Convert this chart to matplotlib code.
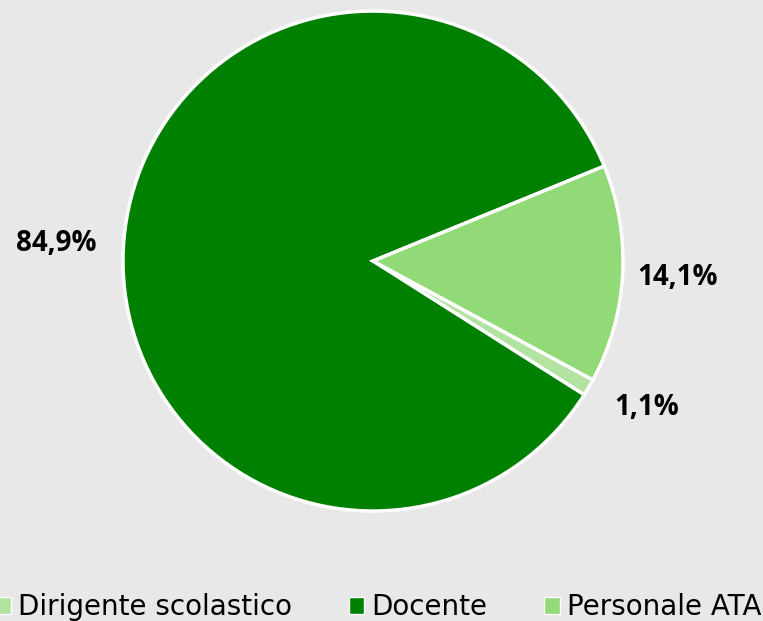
import numpy as np
import matplotlib.pyplot as plt
from matplotlib.patches import Patch

# Data
categories = ['Dirigente scolastico', 'Docente', 'Personale ATA']
values = [1.1, 84.9, 14.1]
colors = ['#B3E3A0', '#008000', '#92D978']
bg = '#E8E8E8'

fig = plt.figure(figsize=(7.63, 6.21), dpi=100, facecolor=bg)
ax = fig.add_axes([0.1612, 0.1771, 500 / 763, 500 / 621])
ax.set_facecolor(bg)

wedges, _ = ax.pie(values, colors=colors, startangle=-28.4, counterclock=False,
                   wedgeprops=dict(edgecolor='white', linewidth=2.5))
ax.set_xlim(-1, 1)
ax.set_ylim(-1, 1)
ax.set_aspect('equal')
ax.axis('off')

# Percent labels outside the pie
dist = [1.27, 1.27, 1.22]
nudge = [(0, 14), (0, -10), (0, 0)]
for w, v, d, off in zip(wedges, values, dist, nudge):
    ang = np.deg2rad((w.theta1 + w.theta2) / 2)
    ax.annotate(f'{v:.1f}%'.replace('.', ','), (d * np.cos(ang), d * np.sin(ang)),
                xytext=off, textcoords='offset pixels', annotation_clip=False,
                ha='center', va='center', fontsize=20, fontweight='bold',
                family=['Open Sans', 'DejaVu Sans'], color='black')

# Legend at bottom
handles = [Patch(facecolor=c, edgecolor='white', linewidth=1) for c in colors]
leg = fig.legend(handles, categories, loc='lower left', ncol=3,
                 bbox_to_anchor=(-0.038, -0.041), frameon=False,
                 prop={'family': 'DejaVu Sans', 'size': 20},
                 handlelength=0.55, handleheight=0.55, handletextpad=0.25,
                 columnspacing=2.05)

fig.savefig('out.png', dpi=100, facecolor=bg)
